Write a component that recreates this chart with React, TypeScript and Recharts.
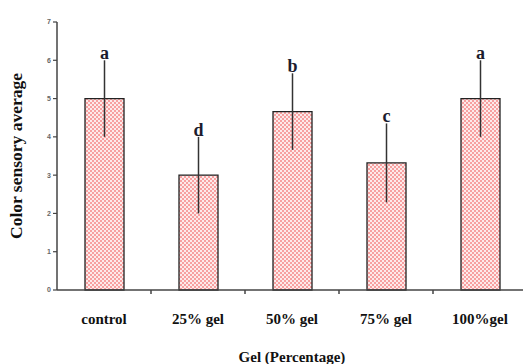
import React from 'react';
import { BarChart, Bar, XAxis, YAxis, ErrorBar, LabelList } from 'recharts';

const categories = ['control', '25% gel', '50% gel', '75% gel', '100%gel'];
const means = [5, 3, 4.66, 3.32, 5];
const errors = [1, 1, 1, 1.03, 1];
const letters = ['a', 'd', 'b', 'c', 'a'];
const yTicks = [0, 1, 2, 3, 4, 5, 6, 7];

const data = categories.map((c, i) => ({ name: c, value: means[i], err: errors[i], letter: letters[i] }));

const serif = '"Liberation Serif", "Times New Roman", serif';
const sans = '"Liberation Sans", Arial, sans-serif';

const LetterLabel = (props: any) => {
  const { x, y, width, height, index } = props;
  const d = data[index];
  const pxPerUnit = height / d.value;
  const top = y - d.err * pxPerUnit;
  return (
    <text x={x + width / 2} y={top - 1} textAnchor="middle" fontFamily={serif} fontWeight="bold" fontSize={18} fill="#1c1c2e">
      {d.letter}
    </text>
  );
};

const CatTick = (props: any) => {
  const { x, y, payload, index } = props;
  const off = payload && typeof payload.offset === 'number' ? payload.offset : 0;
  return (
    <g>
      {index > 0 && off > 0 ? (
        <line x1={x - off} x2={x - off} y1={y} y2={y + 4} stroke="#444" strokeWidth={1.5} />
      ) : null}
      <text x={x} y={y + 34} textAnchor="middle" fontFamily={serif} fontWeight="bold" fontSize={15} fill="#111">
        {payload.value}
      </text>
    </g>
  );
};

export default function App() {
  return (
    <div style={{ position: 'absolute', left: 0, top: 0, width: 523, height: 364, background: '#fff' }}>
      <BarChart width={523} height={364} data={data} margin={{ top: 22, right: -4, left: 0, bottom: 0 }} barCategoryGap={0}>
        <defs>
          <pattern id="chk" width="4" height="4" patternUnits="userSpaceOnUse">
            <rect width="4" height="4" fill="#fdeaea" />
            <rect x="0" y="0" width="2" height="2" fill="#f7a0a0" />
            <rect x="2" y="2" width="2" height="2" fill="#f7a0a0" />
          </pattern>
        </defs>
        <XAxis
          dataKey="name"
          height={74}
          tickLine={false}
          tickSize={0}
          tickMargin={0}
          interval={0}
          axisLine={{ stroke: '#444', strokeWidth: 1.5 }}
          tick={<CatTick />}
          label={{ value: 'Gel (Percentage)', position: 'insideBottom', offset: 2, style: { fontFamily: serif, fontWeight: 'bold', fontSize: 15, fill: '#111' } }}
        />
        <YAxis
          width={57}
          domain={[0, 7]}
          ticks={yTicks}
          interval={0}
          tickSize={4}
          tickLine={{ stroke: '#444', strokeWidth: 1.2 }}
          axisLine={{ stroke: '#444', strokeWidth: 1.5 }}
          tick={{ fontFamily: sans, fontWeight: 'bold', fontSize: 7, fill: '#666' }}
          label={{ value: 'Color sensory average', angle: -90, position: 'insideLeft', offset: 16, style: { fontFamily: serif, fontWeight: 'bold', fontSize: 17.5, fill: '#111', textAnchor: 'middle' } }}
        />
        <Bar dataKey="value" barSize={39} fill="url(#chk)" stroke="#222" strokeWidth={1.3} isAnimationActive={false}>
          <ErrorBar dataKey="err" width={0} stroke="#333" strokeWidth={1.5} direction="y" />
          <LabelList dataKey="value" content={LetterLabel} />
        </Bar>
      </BarChart>
    </div>
  );
}
